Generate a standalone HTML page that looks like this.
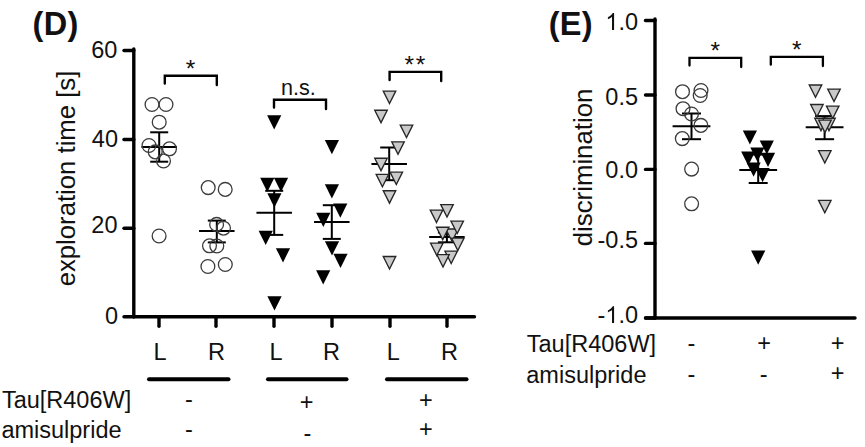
<!DOCTYPE html>
<html><head><meta charset="utf-8"><style>
html,body{margin:0;padding:0;background:#fff;}
svg{display:block;}
text{font-family:"Liberation Sans", sans-serif;fill:#111;}
</style></head><body>
<svg width="865" height="447" viewBox="0 0 865 447">
<rect width="865" height="447" fill="#fff"/>
<text x="32.4" y="34.5" font-size="32.5" text-anchor="start" font-weight="bold" letter-spacing="0.45">(D)</text>
<text x="117.4" y="57.7" font-size="23.5" text-anchor="end" font-weight="normal" >60</text>
<text x="118" y="146.8" font-size="23.5" text-anchor="end" font-weight="normal" >40</text>
<text x="117.5" y="232.9" font-size="23.5" text-anchor="end" font-weight="normal" >20</text>
<text x="118" y="323.7" font-size="23.5" text-anchor="end" font-weight="normal" >0</text>
<text transform="translate(74.5,286.3) rotate(-90)" font-size="25.7">exploration time [s]</text>
<line x1="133.8" y1="49" x2="133.8" y2="316.8" stroke="#000" stroke-width="3.4" stroke-linecap="round"/>
<line x1="133.8" y1="316.8" x2="474.5" y2="316.8" stroke="#000" stroke-width="3.4" stroke-linecap="round"/>
<line x1="124" y1="50.5" x2="133.8" y2="50.5" stroke="#000" stroke-width="3.4" stroke-linecap="round"/>
<line x1="124" y1="139.5" x2="133.8" y2="139.5" stroke="#000" stroke-width="3.4" stroke-linecap="round"/>
<line x1="124" y1="228.2" x2="133.8" y2="228.2" stroke="#000" stroke-width="3.4" stroke-linecap="round"/>
<line x1="124" y1="316.8" x2="133.8" y2="316.8" stroke="#000" stroke-width="3.4" stroke-linecap="round"/>
<line x1="159" y1="316.8" x2="159" y2="326.2" stroke="#000" stroke-width="3.4" stroke-linecap="round"/>
<line x1="216" y1="316.8" x2="216" y2="326.2" stroke="#000" stroke-width="3.4" stroke-linecap="round"/>
<line x1="274" y1="316.8" x2="274" y2="326.2" stroke="#000" stroke-width="3.4" stroke-linecap="round"/>
<line x1="332" y1="316.8" x2="332" y2="326.2" stroke="#000" stroke-width="3.4" stroke-linecap="round"/>
<line x1="390" y1="316.8" x2="390" y2="326.2" stroke="#000" stroke-width="3.4" stroke-linecap="round"/>
<line x1="447" y1="316.8" x2="447" y2="326.2" stroke="#000" stroke-width="3.4" stroke-linecap="round"/>
<text x="160" y="360" font-size="23.5" text-anchor="middle" font-weight="normal" >L</text>
<text x="216.5" y="360" font-size="23.5" text-anchor="middle" font-weight="normal" >R</text>
<text x="276" y="360" font-size="23.5" text-anchor="middle" font-weight="normal" >L</text>
<text x="331.5" y="360" font-size="23.5" text-anchor="middle" font-weight="normal" >R</text>
<text x="393.3" y="360" font-size="23.5" text-anchor="middle" font-weight="normal" >L</text>
<text x="449.4" y="360" font-size="23.5" text-anchor="middle" font-weight="normal" >R</text>
<line x1="149" y1="379.3" x2="228.5" y2="379.3" stroke="#000" stroke-width="4" stroke-linecap="round"/>
<line x1="268" y1="379.3" x2="346.5" y2="379.3" stroke="#000" stroke-width="4" stroke-linecap="round"/>
<line x1="387" y1="379.3" x2="466.5" y2="379.3" stroke="#000" stroke-width="4" stroke-linecap="round"/>
<text x="1.9" y="407.5" font-size="23.5" text-anchor="start" font-weight="normal" >Tau[R406W]</text>
<text x="1.4" y="437.8" font-size="23.5" text-anchor="start" font-weight="normal" >amisulpride</text>
<text x="189" y="406.5" font-size="23.5" text-anchor="middle" font-weight="normal" >-</text>
<text x="189" y="437.4" font-size="23.5" text-anchor="middle" font-weight="normal" >-</text>
<text x="306.6" y="410.0" font-size="23.5" text-anchor="middle" font-weight="normal" >+</text>
<text x="307.3" y="441.4" font-size="23.5" text-anchor="middle" font-weight="normal" >-</text>
<text x="425.9" y="407.7" font-size="23.5" text-anchor="middle" font-weight="normal" >+</text>
<text x="425.9" y="436.6" font-size="23.5" text-anchor="middle" font-weight="normal" >+</text>
<path d="M164.8,83.5L164.8,75.75L216.8,75.75L216.8,85.0" fill="none" stroke="#000" stroke-width="2.4" stroke-linecap="round" stroke-linejoin="miter"/>
<text x="190.4" y="76.9" font-size="24.5" text-anchor="middle" font-weight="normal" >*</text>
<path d="M274.0,107.5L274.0,99.8L326.0,99.8L326.0,109.0" fill="none" stroke="#000" stroke-width="2.4" stroke-linecap="round" stroke-linejoin="miter"/>
<text x="298.3" y="95.3" font-size="21.6" text-anchor="middle" font-weight="normal" >n.s.</text>
<path d="M389.6,80.0L389.6,71.9L441.2,71.9L441.2,81.0" fill="none" stroke="#000" stroke-width="2.4" stroke-linecap="round" stroke-linejoin="miter"/>
<text x="409.3" y="73.4" font-size="24.5" text-anchor="middle" font-weight="normal" >*</text>
<text x="420.6" y="73.4" font-size="24.5" text-anchor="middle" font-weight="normal" >*</text>
<line x1="159.2" y1="132.3" x2="159.2" y2="161.7" stroke="#000" stroke-width="2.0"/>
<line x1="150.2" y1="132.3" x2="168.2" y2="132.3" stroke="#000" stroke-width="2.0"/>
<line x1="150.2" y1="161.7" x2="168.2" y2="161.7" stroke="#000" stroke-width="2.0"/>
<line x1="141.45" y1="146.9" x2="176.95" y2="146.9" stroke="#000" stroke-width="2.0"/>
<circle cx="152" cy="104.5" r="6.9" fill="none" stroke="#3c3c3c" stroke-width="1.3"/>
<circle cx="166" cy="104.5" r="6.9" fill="none" stroke="#3c3c3c" stroke-width="1.3"/>
<circle cx="159.2" cy="122.2" r="6.9" fill="none" stroke="#3c3c3c" stroke-width="1.3"/>
<circle cx="149" cy="145.5" r="6.9" fill="none" stroke="#3c3c3c" stroke-width="1.3"/>
<circle cx="155.2" cy="151.9" r="6.9" fill="none" stroke="#3c3c3c" stroke-width="1.3"/>
<circle cx="169.5" cy="148.8" r="6.9" fill="none" stroke="#3c3c3c" stroke-width="1.3"/>
<circle cx="163.5" cy="161" r="6.9" fill="none" stroke="#3c3c3c" stroke-width="1.3"/>
<circle cx="159.1" cy="236" r="6.9" fill="none" stroke="#3c3c3c" stroke-width="1.3"/>
<line x1="216.8" y1="220.6" x2="216.8" y2="242.4" stroke="#000" stroke-width="2.0"/>
<line x1="207.8" y1="220.6" x2="225.8" y2="220.6" stroke="#000" stroke-width="2.0"/>
<line x1="207.8" y1="242.4" x2="225.8" y2="242.4" stroke="#000" stroke-width="2.0"/>
<line x1="199.05" y1="231" x2="234.55" y2="231" stroke="#000" stroke-width="2.0"/>
<circle cx="208.2" cy="187.6" r="6.9" fill="none" stroke="#3c3c3c" stroke-width="1.3"/>
<circle cx="225.2" cy="189.4" r="6.9" fill="none" stroke="#3c3c3c" stroke-width="1.3"/>
<circle cx="216.6" cy="224.4" r="6.9" fill="none" stroke="#3c3c3c" stroke-width="1.3"/>
<circle cx="223.5" cy="228.2" r="6.9" fill="none" stroke="#3c3c3c" stroke-width="1.3"/>
<circle cx="209.5" cy="245.8" r="6.9" fill="none" stroke="#3c3c3c" stroke-width="1.3"/>
<circle cx="216.8" cy="246" r="6.9" fill="none" stroke="#3c3c3c" stroke-width="1.3"/>
<circle cx="207.9" cy="266.5" r="6.9" fill="none" stroke="#3c3c3c" stroke-width="1.3"/>
<circle cx="225.3" cy="264.5" r="6.9" fill="none" stroke="#3c3c3c" stroke-width="1.3"/>
<line x1="274.2" y1="190.8" x2="274.2" y2="234.9" stroke="#000" stroke-width="2.0"/>
<line x1="265.2" y1="190.8" x2="283.2" y2="190.8" stroke="#000" stroke-width="2.0"/>
<line x1="265.2" y1="234.9" x2="283.2" y2="234.9" stroke="#000" stroke-width="2.0"/>
<line x1="256.45" y1="212.8" x2="291.95" y2="212.8" stroke="#000" stroke-width="2.0"/>
<path d="M267.10,115.20L281.30,115.20L274.20,129.40Z" fill="#000"/>
<path d="M260.20,177.80L274.40,177.80L267.30,192.00Z" fill="#000"/>
<path d="M273.90,177.80L288.10,177.80L281.00,192.00Z" fill="#000"/>
<path d="M267.30,193.20L281.50,193.20L274.40,207.40Z" fill="#000"/>
<path d="M258.60,230.80L272.80,230.80L265.70,245.00Z" fill="#000"/>
<path d="M275.90,248.20L290.10,248.20L283.00,262.40Z" fill="#000"/>
<path d="M267.40,296.20L281.60,296.20L274.50,310.40Z" fill="#000"/>
<line x1="331.8" y1="205.2" x2="331.8" y2="238.9" stroke="#000" stroke-width="2.0"/>
<line x1="322.8" y1="205.2" x2="340.8" y2="205.2" stroke="#000" stroke-width="2.0"/>
<line x1="322.8" y1="238.9" x2="340.8" y2="238.9" stroke="#000" stroke-width="2.0"/>
<line x1="314.05" y1="221.9" x2="349.55" y2="221.9" stroke="#000" stroke-width="2.0"/>
<path d="M324.80,140.10L339.00,140.10L331.90,154.30Z" fill="#000"/>
<path d="M324.80,184.30L339.00,184.30L331.90,198.50Z" fill="#000"/>
<path d="M333.20,203.60L347.40,203.60L340.30,217.80Z" fill="#000"/>
<path d="M316.20,212.70L330.40,212.70L323.30,226.90Z" fill="#000"/>
<path d="M324.90,241.20L339.10,241.20L332.00,255.40Z" fill="#000"/>
<path d="M333.40,253.70L347.60,253.70L340.50,267.90Z" fill="#000"/>
<path d="M316.10,270.20L330.30,270.20L323.20,284.40Z" fill="#000"/>
<line x1="389.2" y1="147.5" x2="389.2" y2="180.2" stroke="#000" stroke-width="2.0"/>
<line x1="380.2" y1="147.5" x2="398.2" y2="147.5" stroke="#000" stroke-width="2.0"/>
<line x1="380.2" y1="180.2" x2="398.2" y2="180.2" stroke="#000" stroke-width="2.0"/>
<line x1="371.45" y1="163.9" x2="406.95" y2="163.9" stroke="#000" stroke-width="2.0"/>
<path d="M383.25,91.05L395.75,91.05L389.50,103.45Z" fill="#c9c9c9" stroke="#262626" stroke-width="1.35" stroke-linejoin="miter"/>
<path d="M374.75,110.25L387.25,110.25L381.00,122.65Z" fill="#c9c9c9" stroke="#262626" stroke-width="1.35" stroke-linejoin="miter"/>
<path d="M400.25,125.15L412.75,125.15L406.50,137.55Z" fill="#c9c9c9" stroke="#262626" stroke-width="1.35" stroke-linejoin="miter"/>
<path d="M391.75,141.85L404.25,141.85L398.00,154.25Z" fill="#c9c9c9" stroke="#262626" stroke-width="1.35" stroke-linejoin="miter"/>
<path d="M374.75,158.25L387.25,158.25L381.00,170.65Z" fill="#c9c9c9" stroke="#262626" stroke-width="1.35" stroke-linejoin="miter"/>
<path d="M376.15,174.35L388.65,174.35L382.40,186.75Z" fill="#c9c9c9" stroke="#262626" stroke-width="1.35" stroke-linejoin="miter"/>
<path d="M390.05,172.15L402.55,172.15L396.30,184.55Z" fill="#c9c9c9" stroke="#262626" stroke-width="1.35" stroke-linejoin="miter"/>
<path d="M383.25,190.75L395.75,190.75L389.50,203.15Z" fill="#c9c9c9" stroke="#262626" stroke-width="1.35" stroke-linejoin="miter"/>
<path d="M383.25,256.55L395.75,256.55L389.50,268.95Z" fill="#c9c9c9" stroke="#262626" stroke-width="1.35" stroke-linejoin="miter"/>
<line x1="446.9" y1="232.5" x2="446.9" y2="242.3" stroke="#000" stroke-width="2.0"/>
<line x1="437.9" y1="232.5" x2="455.9" y2="232.5" stroke="#000" stroke-width="2.0"/>
<line x1="437.9" y1="242.3" x2="455.9" y2="242.3" stroke="#000" stroke-width="2.0"/>
<line x1="429.15" y1="237.1" x2="464.65" y2="237.1" stroke="#000" stroke-width="2.0"/>
<path d="M445.75,228.95L458.25,228.95L452.00,241.35Z" fill="#c9c9c9" stroke="#262626" stroke-width="1.35" stroke-linejoin="miter"/>
<path d="M430.25,210.15L442.75,210.15L436.50,222.55Z" fill="#c9c9c9" stroke="#262626" stroke-width="1.35" stroke-linejoin="miter"/>
<path d="M440.75,204.65L453.25,204.65L447.00,217.05Z" fill="#c9c9c9" stroke="#262626" stroke-width="1.35" stroke-linejoin="miter"/>
<path d="M450.95,221.15L463.45,221.15L457.20,233.55Z" fill="#c9c9c9" stroke="#262626" stroke-width="1.35" stroke-linejoin="miter"/>
<path d="M436.45,227.25L448.95,227.25L442.70,239.65Z" fill="#c9c9c9" stroke="#262626" stroke-width="1.35" stroke-linejoin="miter"/>
<path d="M451.55,238.05L464.05,238.05L457.80,250.45Z" fill="#c9c9c9" stroke="#262626" stroke-width="1.35" stroke-linejoin="miter"/>
<path d="M430.55,243.05L443.05,243.05L436.80,255.45Z" fill="#c9c9c9" stroke="#262626" stroke-width="1.35" stroke-linejoin="miter"/>
<path d="M444.95,251.05L457.45,251.05L451.20,263.45Z" fill="#c9c9c9" stroke="#262626" stroke-width="1.35" stroke-linejoin="miter"/>
<path d="M436.75,254.55L449.25,254.55L443.00,266.95Z" fill="#c9c9c9" stroke="#262626" stroke-width="1.35" stroke-linejoin="miter"/>
<text x="548.7" y="34.7" font-size="32.5" text-anchor="start" font-weight="bold" letter-spacing="0.3">(E)</text>
<text x="638" y="104.7" font-size="23.5" text-anchor="end" font-weight="normal" >0.5</text>
<text x="638" y="177.5" font-size="23.5" text-anchor="end" font-weight="normal" >0.0</text>
<text x="638" y="247.8" font-size="23.5" text-anchor="end" font-weight="normal" >-0.5</text>
<text x="638" y="30.0" font-size="23.5" text-anchor="end" font-weight="normal" >.0</text>
<path transform="translate(605.33,30.00) scale(0.01147,-0.01147)" d="M763,0L583,0L583,1147C540,1106 483,1065 413,1024C343,983 280,952 224,931L224,1105C325,1152 413,1210 488,1277C563,1344 616,1409 647,1472L763,1472Z" fill="#111"/>
<text x="638" y="323.1" font-size="23.5" text-anchor="end" font-weight="normal" >.0</text>
<path transform="translate(605.33,323.10) scale(0.01147,-0.01147)" d="M763,0L583,0L583,1147C540,1106 483,1065 413,1024C343,983 280,952 224,931L224,1105C325,1152 413,1210 488,1277C563,1344 616,1409 647,1472L763,1472Z" fill="#111"/>
<text x="605.3349999999999" y="323.1" font-size="23.5" text-anchor="end" font-weight="normal" >-</text>
<text transform="translate(592.1,246.3) rotate(-90)" font-size="25.8">discrimination</text>
<line x1="655" y1="19" x2="655" y2="318" stroke="#000" stroke-width="3.4" stroke-linecap="round"/>
<line x1="645.5" y1="318" x2="855" y2="318" stroke="#000" stroke-width="3.4" stroke-linecap="round"/>
<line x1="645.5" y1="20.5" x2="655" y2="20.5" stroke="#000" stroke-width="3.4" stroke-linecap="round"/>
<line x1="645.5" y1="95" x2="655" y2="95" stroke="#000" stroke-width="3.4" stroke-linecap="round"/>
<line x1="645.5" y1="169.4" x2="655" y2="169.4" stroke="#000" stroke-width="3.4" stroke-linecap="round"/>
<line x1="645.5" y1="243.4" x2="655" y2="243.4" stroke="#000" stroke-width="3.4" stroke-linecap="round"/>
<line x1="645.5" y1="318" x2="655" y2="318" stroke="#000" stroke-width="3.4" stroke-linecap="round"/>
<text x="526.8" y="351.9" font-size="23.5" text-anchor="start" font-weight="normal" >Tau[R406W]</text>
<text x="526.3" y="383.0" font-size="23.5" text-anchor="start" font-weight="normal" >amisulpride</text>
<text x="691.3" y="351.3" font-size="23.5" text-anchor="middle" font-weight="normal" >-</text>
<text x="764.2" y="351.1" font-size="23.5" text-anchor="middle" font-weight="normal" >+</text>
<text x="837.6" y="351.1" font-size="23.5" text-anchor="middle" font-weight="normal" >+</text>
<text x="691.3" y="381.5" font-size="23.5" text-anchor="middle" font-weight="normal" >-</text>
<text x="763.6" y="381.5" font-size="23.5" text-anchor="middle" font-weight="normal" >-</text>
<text x="837.6" y="381.2" font-size="23.5" text-anchor="middle" font-weight="normal" >+</text>
<path d="M689.5,65.6L689.5,57.8L741.2,57.8L741.2,67.0" fill="none" stroke="#000" stroke-width="2.3" stroke-linecap="round" stroke-linejoin="miter"/>
<text x="715.3" y="59.4" font-size="24.5" text-anchor="middle" font-weight="normal" >*</text>
<path d="M770.8,64.7L770.8,56.8L822.9,56.8L822.9,66.1" fill="none" stroke="#000" stroke-width="2.3" stroke-linecap="round" stroke-linejoin="miter"/>
<text x="796.8" y="57.9" font-size="24.5" text-anchor="middle" font-weight="normal" >*</text>
<line x1="691.5" y1="113.5" x2="691.5" y2="139.2" stroke="#000" stroke-width="2.0"/>
<line x1="682.0" y1="113.5" x2="701.0" y2="113.5" stroke="#000" stroke-width="2.0"/>
<line x1="682.0" y1="139.2" x2="701.0" y2="139.2" stroke="#000" stroke-width="2.0"/>
<line x1="672.6" y1="126.2" x2="710.4" y2="126.2" stroke="#000" stroke-width="2.0"/>
<circle cx="682.5" cy="91.7" r="6.9" fill="none" stroke="#3c3c3c" stroke-width="1.3"/>
<circle cx="701" cy="90.5" r="6.9" fill="none" stroke="#3c3c3c" stroke-width="1.3"/>
<circle cx="700.2" cy="95.5" r="6.9" fill="none" stroke="#3c3c3c" stroke-width="1.3"/>
<circle cx="683" cy="108.7" r="6.9" fill="none" stroke="#3c3c3c" stroke-width="1.3"/>
<circle cx="691.5" cy="114" r="6.9" fill="none" stroke="#3c3c3c" stroke-width="1.3"/>
<circle cx="700.9" cy="125.4" r="6.9" fill="none" stroke="#3c3c3c" stroke-width="1.3"/>
<circle cx="682.3" cy="138.6" r="6.9" fill="none" stroke="#3c3c3c" stroke-width="1.3"/>
<circle cx="691.6" cy="169.1" r="6.9" fill="none" stroke="#3c3c3c" stroke-width="1.3"/>
<circle cx="691.6" cy="203.8" r="6.9" fill="none" stroke="#3c3c3c" stroke-width="1.3"/>
<line x1="758.2" y1="154.5" x2="758.2" y2="183.0" stroke="#000" stroke-width="2.0"/>
<line x1="748.7" y1="154.5" x2="767.7" y2="154.5" stroke="#000" stroke-width="2.0"/>
<line x1="748.7" y1="183.0" x2="767.7" y2="183.0" stroke="#000" stroke-width="2.0"/>
<line x1="739.3000000000001" y1="169.9" x2="777.1" y2="169.9" stroke="#000" stroke-width="2.0"/>
<path d="M742.80,130.40L757.00,130.40L749.90,144.60Z" fill="#000"/>
<path d="M759.70,140.40L773.90,140.40L766.80,154.60Z" fill="#000"/>
<path d="M750.30,147.50L764.50,147.50L757.40,161.70Z" fill="#000"/>
<path d="M741.10,151.40L755.30,151.40L748.20,165.60Z" fill="#000"/>
<path d="M760.90,152.70L775.10,152.70L768.00,166.90Z" fill="#000"/>
<path d="M746.50,162.50L760.70,162.50L753.60,176.70Z" fill="#000"/>
<path d="M755.50,168.10L769.70,168.10L762.60,182.30Z" fill="#000"/>
<path d="M751.10,250.60L765.30,250.60L758.20,264.80Z" fill="#000"/>
<line x1="824.6" y1="116.1" x2="824.6" y2="139.2" stroke="#000" stroke-width="2.0"/>
<line x1="815.1" y1="116.1" x2="834.1" y2="116.1" stroke="#000" stroke-width="2.0"/>
<line x1="815.1" y1="139.2" x2="834.1" y2="139.2" stroke="#000" stroke-width="2.0"/>
<line x1="805.7" y1="127.3" x2="843.5" y2="127.3" stroke="#000" stroke-width="2.0"/>
<path d="M809.25,84.95L821.75,84.95L815.50,97.35Z" fill="#c9c9c9" stroke="#262626" stroke-width="1.35" stroke-linejoin="miter"/>
<path d="M827.75,89.05L840.25,89.05L834.00,101.45Z" fill="#c9c9c9" stroke="#262626" stroke-width="1.35" stroke-linejoin="miter"/>
<path d="M810.65,104.45L823.15,104.45L816.90,116.85Z" fill="#c9c9c9" stroke="#262626" stroke-width="1.35" stroke-linejoin="miter"/>
<path d="M826.45,106.05L838.95,106.05L832.70,118.45Z" fill="#c9c9c9" stroke="#262626" stroke-width="1.35" stroke-linejoin="miter"/>
<path d="M814.75,118.25L827.25,118.25L821.00,130.65Z" fill="#c9c9c9" stroke="#262626" stroke-width="1.35" stroke-linejoin="miter"/>
<path d="M822.75,118.25L835.25,118.25L829.00,130.65Z" fill="#c9c9c9" stroke="#262626" stroke-width="1.35" stroke-linejoin="miter"/>
<path d="M818.75,120.05L831.25,120.05L825.00,132.45Z" fill="#c9c9c9" stroke="#262626" stroke-width="1.35" stroke-linejoin="miter"/>
<path d="M818.55,150.55L831.05,150.55L824.80,162.95Z" fill="#c9c9c9" stroke="#262626" stroke-width="1.35" stroke-linejoin="miter"/>
<path d="M818.55,200.35L831.05,200.35L824.80,212.75Z" fill="#c9c9c9" stroke="#262626" stroke-width="1.35" stroke-linejoin="miter"/>
</svg></body></html>
